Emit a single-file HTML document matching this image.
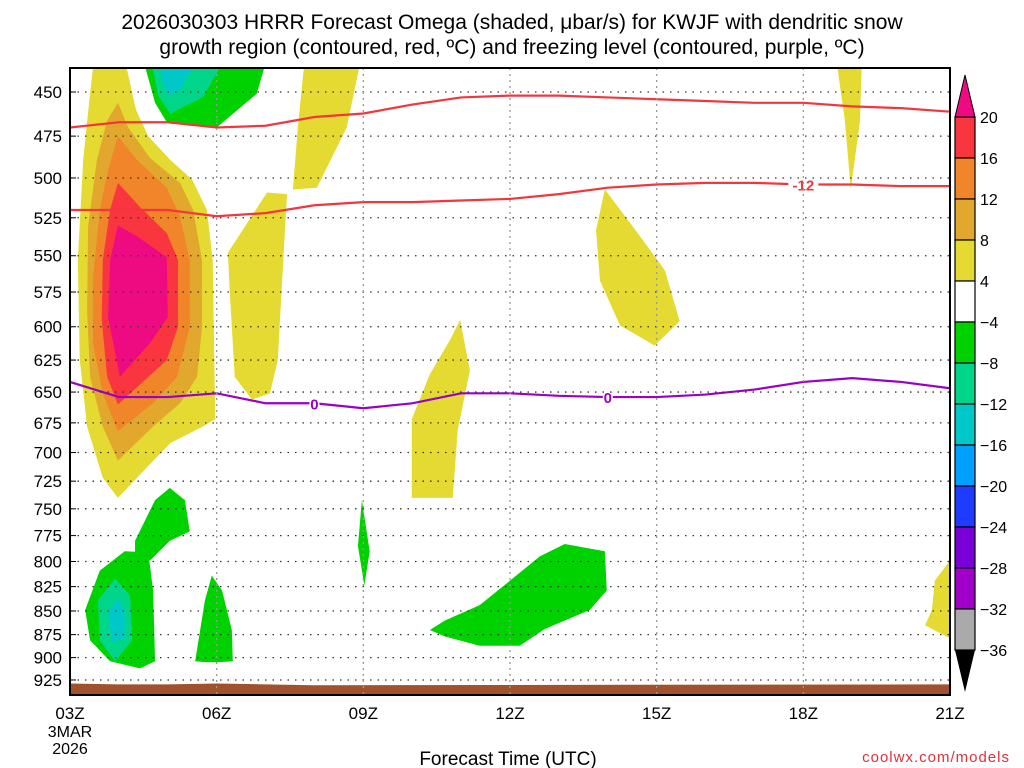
<!DOCTYPE html>
<html><head><meta charset="utf-8"><style>
body{margin:0;background:#fff;width:1024px;height:768px;overflow:hidden}
svg{display:block;font-family:"Liberation Sans",sans-serif}
</style></head><body>
<svg id="chart" width="1024" height="768">
<text x="512" y="29" text-anchor="middle" font-size="21">2026030303 HRRR Forecast Omega (shaded, μbar/s) for KWJF with dendritic snow</text>
<text x="512" y="54" text-anchor="middle" font-size="21">growth region (contoured, red, ºC) and freezing level (contoured, purple, ºC)</text>
<g id="plot"></g>
<text x="508" y="765" text-anchor="middle" font-size="19">Forecast Time (UTC)</text>
<text x="1010" y="762" text-anchor="end" font-size="15" fill="#e0303a" letter-spacing="1">coolwx.com/models</text>
</svg>
<script>
const pressureTicks=[450,475,500,525,550,575,600,625,650,675,700,725,750,775,800,825,850,875,900,925];
const hourTicks=[3,6,9,12,15,18,21];
const hourLabels=["03Z","06Z","09Z","12Z","15Z","18Z","21Z"];
const cbLevels=["20","16","12","8","4","−4","−8","−12","−16","−20","−24","−28","−32","−36"];
const cbColors=["#f9363f","#f0852a","#e2a82e","#e4da31","#ffffff","#00d200","#00d68a","#00c8c8","#00a0ff","#1e3cff","#7a00d8","#a000c8","#aaaaaa"];
const shadeColor={y:"#e4da31",g8:"#e2a82e",o:"#f0852a",r:"#f9363f",m:"#ee0a80",gr:"#00d200",tl:"#00d68a",cy:"#00c8c8"};
// contour polygons: [hour, hPa]
const contours=[
 ["y",[[3.5,430],[4.1,430],[4.35,460],[4.6,475],[5.05,489],[5.5,501],[5.8,520],[5.92,553],[5.97,672],[5.72,678],[5.05,692],[4.37,722],[3.98,740],[3.67,722],[3.35,678],[3.2,625],[3.16,553],[3.27,489],[3.41,451]]],
 ["g8",[[3.98,456],[4.19,470],[4.64,488],[5.25,503],[5.52,520],[5.7,553],[5.7,600],[5.6,638],[5.25,659],[4.7,678],[3.98,707],[3.67,678],[3.41,638],[3.35,588],[3.37,531],[3.55,489],[3.76,466]]],
 ["o",[[3.98,475],[4.37,489],[4.98,506],[5.25,524],[5.45,553],[5.45,600],[5.19,638],[4.7,659],[3.98,682],[3.67,651],[3.47,612],[3.47,565],[3.61,520],[3.78,495]]],
 ["r",[[3.98,503],[4.43,518],[4.98,535],[5.21,553],[5.21,600],[4.98,625],[4.49,642],[3.98,660],[3.76,638],[3.65,595],[3.67,553],[3.82,520]]],
 ["m",[[3.98,530],[4.37,537],[4.98,551],[5.0,593],[4.64,612],[4.02,638],[3.78,593],[3.82,553]]],
 ["gr",[[4.47,430],[7.05,430],[6.82,451],[6.0,470],[4.98,467],[4.74,456]]],
 ["tl",[[4.64,430],[6.21,430],[5.72,453],[5.05,462],[4.8,452]]],
 ["cy",[[4.8,430],[5.66,430],[5.25,449],[5.0,452],[4.9,445]]],
 ["y",[[7.81,430],[8.97,430],[8.66,470],[8.05,506],[7.56,507],[7.66,470]]],
 ["y",[[6.23,548],[7.03,509],[7.44,510],[7.4,531],[7.25,625],[7.09,651],[6.72,656],[6.37,638],[6.27,576]]],
 ["y",[[9.99,672],[10.36,636],[10.77,610],[10.98,595],[11.18,633],[10.93,681],[10.83,740],[9.99,740]]],
 ["y",[[13.94,507],[14.66,537],[15.17,560],[15.47,596],[14.96,614],[14.25,599],[13.84,567],[13.76,533]]],
 ["y",[[18.66,430],[19.2,430],[19.16,466],[18.97,507],[18.85,466]]],
 ["y",[[21,799],[20.69,819],[20.63,849],[20.49,865],[21,879]]],
 ["gr",[[3.31,849],[3.61,809],[4.12,790],[4.6,791],[4.7,829],[4.74,904],[4.43,912],[3.82,904],[3.41,881]]],
 ["tl",[[3.57,839],[3.92,817],[4.23,834],[4.27,881],[3.92,904],[3.61,881]]],
 ["cy",[[3.78,852],[3.98,837],[4.12,849],[4.12,879],[3.86,883]]],
 ["gr",[[4.33,780],[4.74,742],[5.04,731],[5.35,742],[5.45,771],[5.04,780],[4.64,799],[4.33,795]]],
 ["gr",[[5.56,904],[5.76,839],[5.9,814],[6.11,829],[6.31,870],[6.33,904],[6.07,905],[5.76,905]]],
 ["gr",[[8.89,785],[8.97,742],[9.13,790],[9.02,824]]],
 ["gr",[[10.36,870],[10.67,860],[11.38,844],[12.0,819],[12.61,795],[13.12,783],[13.94,790],[13.98,829],[13.63,849],[12.71,869],[12.2,887],[11.38,887],[10.67,877]]]
];
const lineHours=[3,4,5,6,7,8,9,10,11,12,13,14,15,16,17,18,19,20,21];
const redUpper=[470,467,467,470,469,464,462,457,453,452,452,453,454,455,456,456,458,459,461];
const redLower=[520,520,520,524,522,517,515,515,514,513,510,506,504,503,503,504,504,505,505];
const freezeLvl=[642,654,654,651,659,659,663,659,651,651,653,654,654,652,648,642,639,642,647];
const terrainHours=[3,4,5,6,7,8,21];
const terrainTop=[929,930,930,929,930,931,930];

const X0=70,X1=950,Y0=68,Y1=695;
const xs=h=>X0+(h-3)*(X1-X0)/18;
const ys=p=>92+816*Math.log(p/450);
const NS="http://www.w3.org/2000/svg";
const plot=document.getElementById('plot');
function mk(t,a,parent){const e=document.createElementNS(NS,t);for(const k in a)e.setAttribute(k,a[k]);(parent||plot).appendChild(e);return e;}
const defs=mk('defs',{});const cp=mk('clipPath',{id:'pc'},defs);mk('rect',{x:X0,y:Y0,width:X1-X0,height:Y1-Y0},cp);
const g=mk('g',{'clip-path':'url(#pc)'});
contours.forEach((c,i)=>{
 const e=mk('polygon',{points:c[1].map(p=>xs(p[0])+','+ys(p[1])).join(' '),fill:shadeColor[c[0]]},g);
 
 
});
{const pts=terrainHours.map((h,i)=>xs(h)+','+ys(terrainTop[i]));
 const e=mk('polygon',{points:pts.join(' ')+' '+xs(21)+','+Y1+' '+xs(3)+','+Y1,fill:'#a0522d'},g);
 
 }
pressureTicks.forEach(p=>{const e=mk('line',{x1:X0,x2:X1,y1:ys(p),y2:ys(p),stroke:'#333','stroke-width':1.3,'stroke-dasharray':'1.5 6'});
 
 
 const t=mk('text',{x:62,y:ys(p)+6,'text-anchor':'end','font-size':17});t.textContent=p;
 
 
 mk('line',{x1:X0,x2:X0+6,y1:ys(p),y2:ys(p),stroke:'#000'});});
hourTicks.forEach((h,i)=>{if(i>0&&i<6){const e=mk('line',{x1:xs(h),x2:xs(h),y1:Y0,y2:Y1,stroke:'#999','stroke-width':1.3,'stroke-dasharray':'2 4'});
 
 }
 const t=mk('text',{x:xs(h),y:719,'text-anchor':'middle','font-size':17});t.textContent=hourLabels[i];
 
 });
{const t=mk('text',{x:xs(3),y:737,'text-anchor':'middle','font-size':16});t.textContent='3MAR';
 
 
 const t2=mk('text',{x:xs(3),y:754,'text-anchor':'middle','font-size':16});t2.textContent='2026';
 
 }
function line(arr,col,name){const e=mk('polyline',{points:lineHours.map((h,i)=>xs(h)+','+ys(arr[i])).join(' '),fill:'none',stroke:col,'stroke-width':2.2},g);
 
 }
line(redUpper,'#f4363c','dgz-upper-line');
line(redLower,'#f4363c','dgz-lower-line');
line(freezeLvl,'#9a00c8','freezing-level-line');
function lab(h,arr,txt,col,name){const i=lineHours.indexOf(h);const y=ys(arr[i]);
 mk('rect',{x:xs(h)-(txt.length*5),y:y-7,width:txt.length*10,height:14,fill:'#fff'},g);
 const t=mk('text',{x:xs(h),y:y+6,'text-anchor':'middle','font-size':15,'font-weight':'bold',fill:col},g);t.textContent=txt;
 
 }
lab(18,redLower,'-12','#f4363c','dgz-label');
lab(8,freezeLvl,'0','#9a00c8','freeze-label-1');
lab(14,freezeLvl,'0','#9a00c8','freeze-label-2');
{const e=mk('rect',{x:X0,y:Y0,width:X1-X0,height:Y1-Y0,fill:'none',stroke:'#000','stroke-width':2});
 
 }
const CX=955,CW=20,CT=117,CS=41;
{const e=mk('polygon',{points:`${CX},${CT} ${CX+CW},${CT} ${CX+CW/2},${CT-42}`,fill:'#ee0a80',stroke:'#000'});
 
 }
cbColors.forEach((c,i)=>{const e=mk('rect',{x:CX,y:CT+i*CS,width:CW,height:CS,fill:c,stroke:'#000','stroke-width':1.2});
 
 });
{const yb=CT+cbColors.length*CS;const e=mk('polygon',{points:`${CX},${yb} ${CX+CW},${yb} ${CX+CW/2},${yb+42}`,fill:'#000'});
 
 }
cbLevels.forEach((l,i)=>{const t=mk('text',{x:980,y:CT+i*CS+6,'font-size':16});t.textContent=l;
 
 });
</script>
</body></html>
